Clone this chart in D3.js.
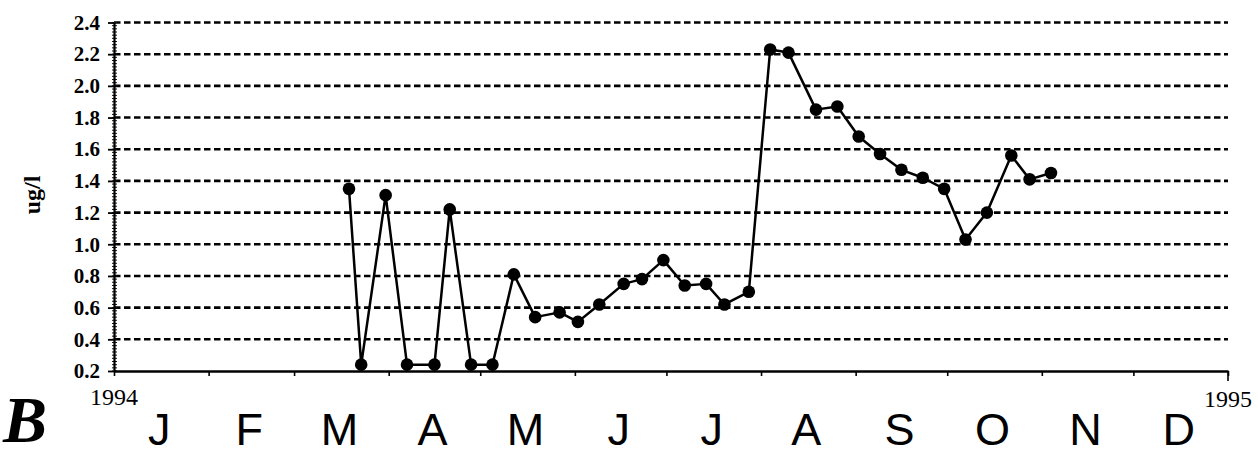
<!DOCTYPE html>
<html>
<head>
<meta charset="utf-8">
<script src="https://cdn.jsdelivr.net/npm/d3@7"></script>
<style>
  html, body { margin: 0; padding: 0; background: #fff; }
  svg { display: block; }
</style>
</head>
<body>
<svg id="chart" width="1258" height="449"></svg>
<script>
// Sampling dates (1994) and measured concentrations (ug/l)
const sampleDates = [
  "1994-03-19", "1994-03-23", "1994-03-31", "1994-04-07", "1994-04-16",
  "1994-04-21", "1994-04-28", "1994-05-05", "1994-05-12", "1994-05-19",
  "1994-05-27", "1994-06-02", "1994-06-09", "1994-06-17", "1994-06-23",
  "1994-06-30", "1994-07-07", "1994-07-14", "1994-07-20", "1994-07-28",
  "1994-08-04", "1994-08-10", "1994-08-19", "1994-08-26", "1994-09-02",
  "1994-09-09", "1994-09-16", "1994-09-23", "1994-09-30", "1994-10-07",
  "1994-10-14", "1994-10-22", "1994-10-28", "1994-11-04"
];
const concentrations = [
  1.35, 0.24, 1.31, 0.24, 0.24,
  1.22, 0.24, 0.24, 0.81, 0.54,
  0.57, 0.51, 0.62, 0.75, 0.78,
  0.90, 0.74, 0.75, 0.62, 0.70,
  2.23, 2.21, 1.85, 1.87, 1.68,
  1.57, 1.47, 1.42, 1.35, 1.03,
  1.20, 1.56, 1.41, 1.45
];
const yTickValues = [0.2, 0.4, 0.6, 0.8, 1.0, 1.2, 1.4, 1.6, 1.8, 2.0, 2.2, 2.4];
const monthLabels = ["J", "F", "M", "A", "M", "J", "J", "A", "S", "O", "N", "D"];
const yearLabels = ["1994", "1995"];

const svg = d3.select("#chart");
const parse = d3.timeParse("%Y-%m-%d");
const points = sampleDates.map((d, i) => ({ date: parse(d), value: concentrations[i] }));

const x0 = 114, x1 = 1228, yBottom = 371, yTop = 22.5;
const start = new Date(1994, 0, 1), end = new Date(1995, 0, 1);
const x = d3.scaleTime().domain([start, end]).range([x0, x1]);
const y = d3.scaleLinear().domain([0.2, 2.4]).range([yBottom, yTop]);

const serif = "'Liberation Serif', 'Times New Roman', serif";
const sans = "'Liberation Sans', Arial, Helvetica, sans-serif";

// Dashed horizontal gridlines
svg.append("g")
  .selectAll("line")
  .data(yTickValues.filter(v => v > 0.2))
  .join("line")
  .attr("x1", x0).attr("x2", x1)
  .attr("y1", d => y(d)).attr("y2", d => y(d))
  .attr("stroke", "#000")
  .attr("stroke-width", 2.6)
  .attr("stroke-dasharray", "6.5,3.5");

// Minor ticks on the value axis (every 0.02)
const minor = d3.range(0, 111).map(i => 0.2 + i * 0.02);
svg.append("g")
  .selectAll("line")
  .data(minor)
  .join("line")
  .attr("x1", x0 - 2).attr("x2", x0 + 3)
  .attr("y1", d => y(d)).attr("y2", d => y(d))
  .attr("stroke", "#111").attr("stroke-width", 1);

// Value axis
const yAxis = svg.append("g")
  .attr("transform", `translate(${x0},0)`)
  .call(d3.axisLeft(y).tickValues(yTickValues).tickFormat(d3.format(".1f"))
    .tickSizeInner(6).tickSizeOuter(0).tickPadding(8));
yAxis.select(".domain").attr("stroke", "#000").attr("stroke-width", 2.2);
yAxis.selectAll(".tick line").attr("stroke", "#000").attr("stroke-width", 1.8);
yAxis.selectAll(".tick text")
  .attr("font-family", serif).attr("font-weight", "bold").attr("font-size", 21)
  .attr("fill", "#000");

// Time axis with month ticks
const xAxis = svg.append("g")
  .attr("transform", `translate(0,${yBottom})`)
  .call(d3.axisBottom(x).ticks(d3.timeMonth.every(1)).tickFormat("")
    .tickSizeInner(5).tickSizeOuter(0));
xAxis.select(".domain").attr("stroke", "#000").attr("stroke-width", 2.6);
xAxis.selectAll(".tick line").attr("stroke", "#000").attr("stroke-width", 1.6);
xAxis.append("line")
  .attr("x1", x(end)).attr("x2", x(end)).attr("y1", 0).attr("y2", 10)
  .attr("stroke", "#000").attr("stroke-width", 1.6);

// Year labels at the ends of the time axis
svg.append("g")
  .selectAll("text")
  .data(yearLabels)
  .join("text")
  .attr("x", (d, i) => x(i === 0 ? start : end))
  .attr("y", (d, i) => i === 0 ? 405 : 407)
  .attr("text-anchor", "middle")
  .attr("font-family", serif).attr("font-size", 24)
  .attr("fill", "#000")
  .text(d => d);

// Month initials centred in each month
const months = d3.timeMonth.range(start, end);
svg.append("g")
  .selectAll("text")
  .data(months)
  .join("text")
  .attr("x", d => (x(d) + x(d3.timeMonth.offset(d, 1))) / 2 - 2)
  .attr("y", 445)
  .attr("text-anchor", "middle")
  .attr("font-family", sans).attr("font-size", 45)
  .attr("fill", "#000")
  .text((d, i) => monthLabels[i]);

// Unit label
svg.append("text")
  .attr("transform", "translate(40,195) rotate(-90)")
  .attr("text-anchor", "middle")
  .attr("font-family", serif).attr("font-weight", "bold").attr("font-size", 24)
  .attr("fill", "#000")
  .text("ug/l");

// Panel letter
svg.append("text")
  .attr("x", 3).attr("y", 442)
  .attr("font-family", serif).attr("font-weight", "bold").attr("font-style", "italic")
  .attr("font-size", 66)
  .attr("fill", "#000")
  .text("B");

// Concentration series
const line = d3.line().x(d => x(d.date)).y(d => y(d.value));
svg.append("path")
  .datum(points)
  .attr("d", line)
  .attr("fill", "none")
  .attr("stroke", "#000")
  .attr("stroke-width", 2.5)
  .attr("stroke-linejoin", "round");

svg.append("g")
  .selectAll("circle")
  .data(points)
  .join("circle")
  .attr("cx", d => x(d.date))
  .attr("cy", d => y(d.value))
  .attr("r", 6.3)
  .attr("fill", "#000");
</script>
</body>
</html>
